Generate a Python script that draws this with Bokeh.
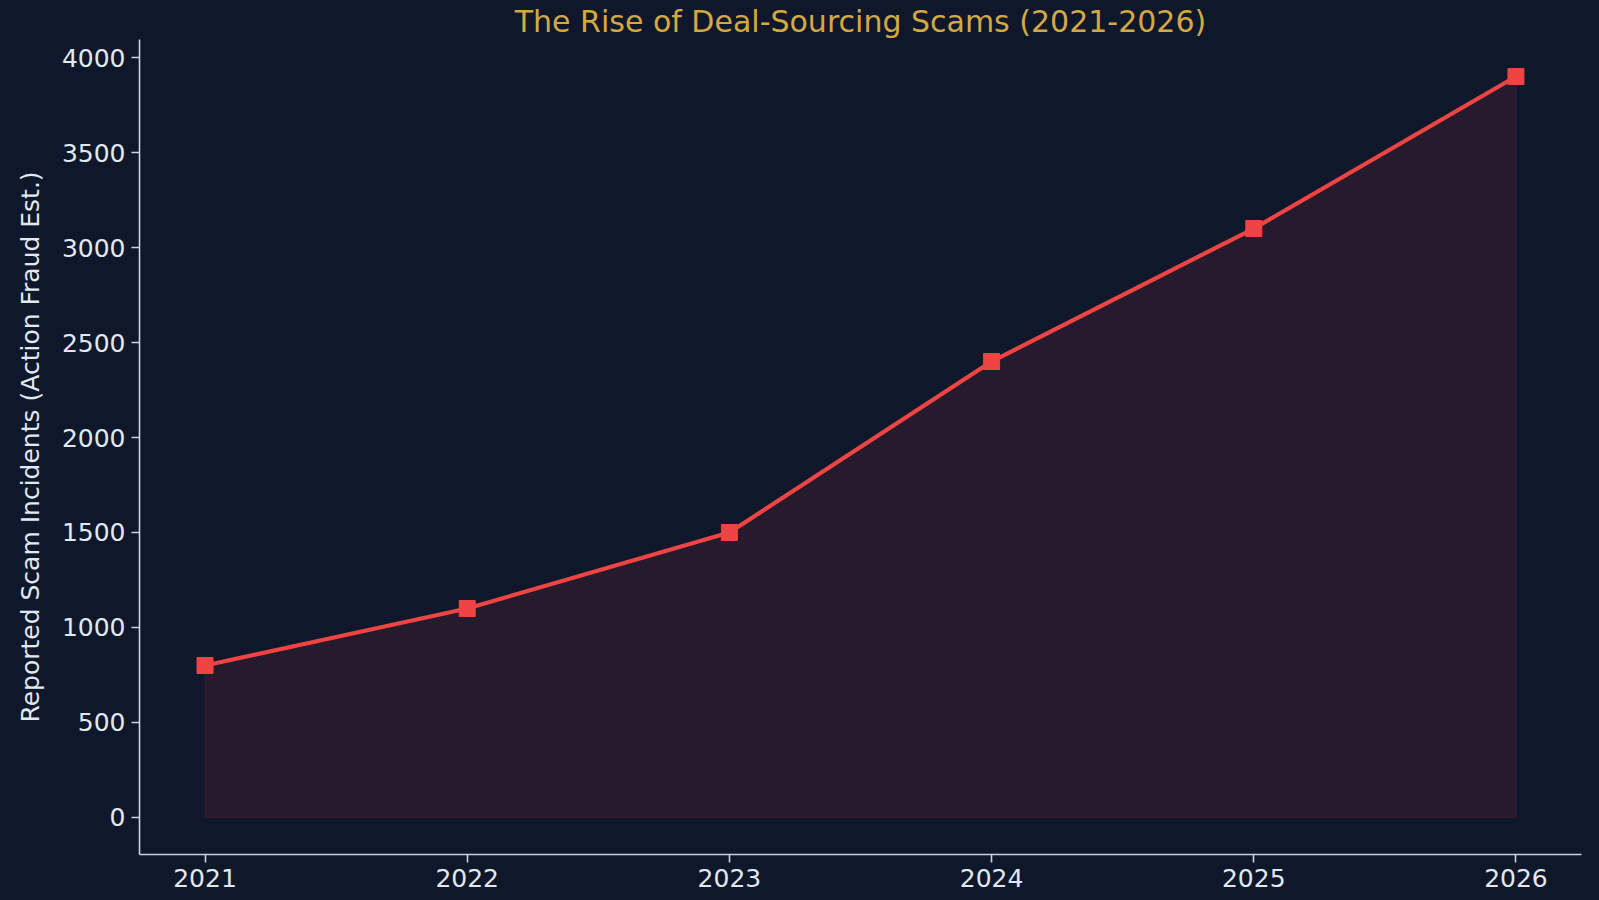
from bokeh.plotting import figure
from bokeh.models import Range1d, FixedTicker
from bokeh.embed import file_html
from bokeh.resources import INLINE

# ---- data ----
years = [2021, 2022, 2023, 2024, 2025, 2026]
incidents = [800, 1100, 1500, 2400, 3100, 3900]
y_ticks = [0, 500, 1000, 1500, 2000, 2500, 3000, 3500, 4000]
title_text = "The Rise of Deal-Sourcing Scams (2021-2026)"
y_label = "Reported Scam Incidents (Action Fraud Est.)"

BG = "#0f172a"
RED = "#ef4444"
AXIS = "#cbd5e1"
TEXT = "#e2e8f0"
GOLD = "#d4a843"
FONT = "DejaVu Sans"

p = figure(width=1599, height=900, output_backend="svg", toolbar_location=None,
           x_range=Range1d(2020.75, 2026.25), y_range=Range1d(-195, 4095),
           min_border_left=139, min_border_right=18, min_border_top=0, min_border_bottom=46)
p.background_fill_color = BG
p.border_fill_color = BG
p.outline_line_color = None
p.styles = {"background-color": BG}
p.grid.visible = False

p.title.text = title_text
p.title.align = "center"
p.title.text_font = FONT
p.title.text_font_size = "30px"
p.title.text_font_style = "normal"
p.title.text_color = GOLD
p.title.standoff = 2

# fill under the line
px = years + years[::-1]
py = incidents + [0] * len(years)
p.patch(px, py, fill_color=RED, fill_alpha=0.1, line_color=RED, line_alpha=0.1, line_width=1.5)

p.line(years, incidents, line_color=RED, line_width=4.2)
p.scatter(years, incidents, marker="square", size=16, fill_color=RED, line_color=RED)

# axes
for ax in (p.xaxis[0], p.yaxis[0]):
    ax.axis_line_color = AXIS
    ax.axis_line_width = 1.6
    ax.major_tick_line_color = AXIS
    ax.major_tick_line_width = 1.6
    ax.major_tick_out = 8
    ax.major_tick_in = 0
    ax.minor_tick_line_color = None
    ax.major_label_text_color = TEXT
    ax.major_label_text_font = FONT
    ax.major_label_text_font_size = "25px"
    ax.major_label_standoff = 6

p.yaxis.ticker = FixedTicker(ticks=y_ticks)
p.yaxis.axis_label = y_label
p.yaxis.axis_label_text_font = FONT
p.yaxis.axis_label_text_font_size = "25px"
p.yaxis.axis_label_text_font_style = "normal"
p.yaxis.axis_label_text_color = TEXT
p.yaxis.axis_label_standoff = 14

p.xaxis.ticker = FixedTicker(ticks=years)

html = file_html(p, INLINE)
html = html.replace("<head>", "<head><style>html,body{margin:0;background:%s;}</style>" % BG, 1)
open("out.html", "w").write(html)
